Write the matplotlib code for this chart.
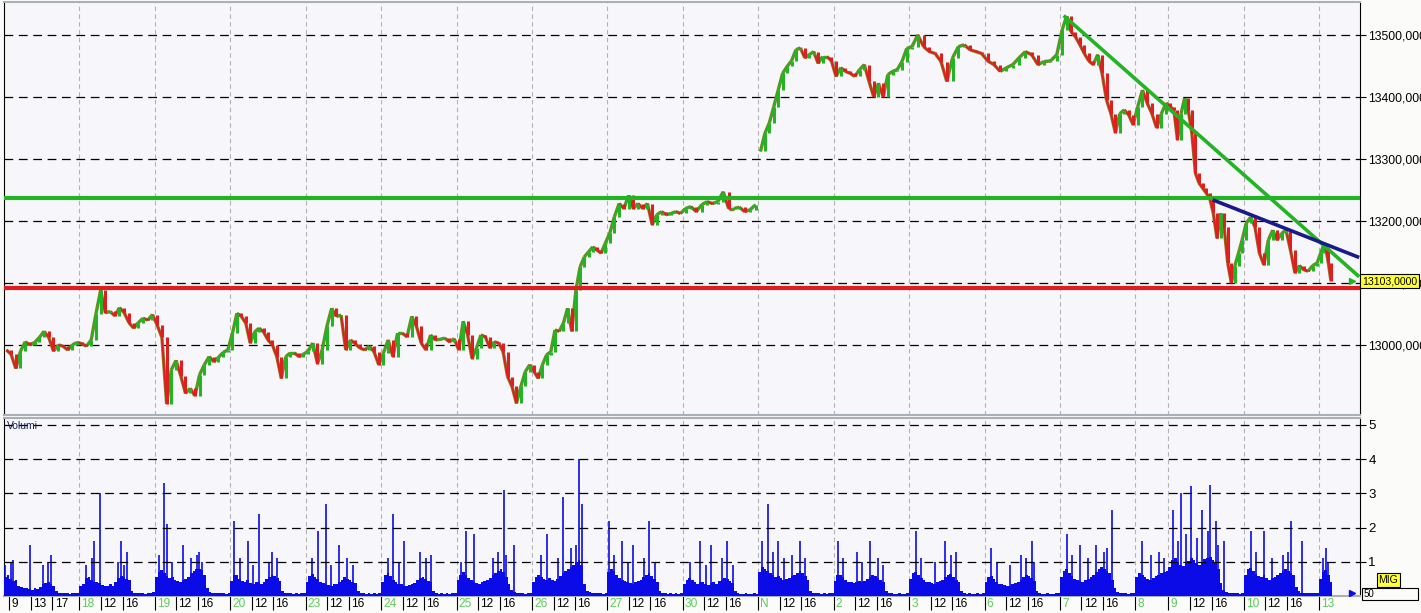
import numpy as np
import matplotlib
matplotlib.use("Agg")
import matplotlib.pyplot as plt
from matplotlib.collections import LineCollection
from matplotlib.patches import Rectangle
from matplotlib.transforms import blended_transform_factory

# --- sessions shown (8:00-22:00), 8 Nov short, 13 Nov only partly traded ---
day_labels = ["", "18", "19", "20", "23", "24", "25", "26", "27", "30",
              "N", "2", "3", "6", "7", "8", "9", "10", "13"]
day_hours = [14, 14, 14, 14, 14, 14, 14, 14, 14, 14,
             14, 14, 14, 14, 14, 6.15, 14, 14, 2.4]
first_day_hours = [9, 13, 17]
other_day_hours = [12, 16]

# --- index price, samples spread evenly over each session ---
p_oct17 = [12992, 12985, 12962, 12990, 13005, 13000, 13004, 13012, 13022, 13012, 12990, 13000, 12998, 12992, 13000, 13004]
p_oct18 = [13002, 12998, 13008, 13050, 13088, 13052, 13054, 13047, 13060, 13052, 13036, 13027, 13036, 13043, 13040, 13049]
p_oct19 = [13032, 13012, 12905, 12960, 12975, 12950, 12922, 12930, 12918, 12952, 12968, 12981, 12973, 12980, 12988, 12992]
p_oct20 = [13019, 13051, 13046, 13035, 13003, 13021, 13027, 13021, 13008, 13000, 12981, 12946, 12981, 12987, 12987, 12981, 12985]
p_oct23 = [12990, 13003, 12970, 12992, 13030, 13059, 13046, 13048, 12992, 13008, 13002, 12995, 12992, 12998, 12989, 12968]
p_oct24 = [12987, 13008, 12981, 13019, 13019, 13013, 13046, 13030, 13003, 12992, 13016, 13008, 13009, 13011, 13005, 13010]
p_oct25 = [12992, 13038, 13016, 12978, 12995, 13016, 13013, 12995, 13005, 13003, 12989, 12949, 12933, 12906, 12933, 12957, 12968]
p_oct26 = [12957, 12946, 12968, 12984, 12989, 13024, 13022, 13035, 13059, 13022, 13089, 13126, 13142, 13150, 13158, 13153, 13148, 13164]
p_oct27 = [13180, 13207, 13228, 13220, 13241, 13220, 13228, 13220, 13228, 13194, 13210, 13215, 13210, 13212, 13215, 13212]
p_oct30 = [13220, 13223, 13215, 13226, 13231, 13228, 13231, 13247, 13220, 13220, 13222, 13215, 13218, 13226]
p_nov01 = [13312, 13341, 13358, 13384, 13411, 13438, 13449, 13458, 13476, 13479, 13463, 13468, 13473, 13454, 13465, 13465, 13458]
p_nov02 = [13433, 13447, 13441, 13438, 13433, 13444, 13452, 13425, 13400, 13422, 13400, 13436, 13441, 13444, 13457, 13478]
p_nov03 = [13481, 13500, 13481, 13473, 13470, 13457, 13425, 13463, 13481, 13484, 13476, 13473, 13470]
p_nov06 = [13458, 13452, 13441, 13447, 13452, 13463, 13473, 13468, 13452, 13457, 13458, 13468]
p_nov07 = [13508, 13530, 13505, 13497, 13484, 13470, 13458, 13452, 13468, 13438, 13395, 13373, 13342, 13373, 13379, 13371, 13355]
p_nov08 = [13384, 13411, 13390, 13373, 13350, 13373, 13390]
p_nov09 = [13384, 13379, 13331, 13373, 13398, 13379, 13342, 13277, 13261, 13253, 13245, 13236, 13212, 13172, 13212, 13190, 13132, 13100, 13128, 13148, 13169]
p_nov10 = [13196, 13206, 13190, 13148, 13129, 13169, 13185, 13169, 13180, 13185, 13153, 13116, 13128, 13121, 13119, 13128, 13132]
p_nov13 = [13148, 13159, 13156, 13132, 13103]

# --- volume per half hour ---
v_oct17 = [0.55, 0.62, 0.50, 0.45, 0.48, 0.30, 0.25, 0.22, 0.24, 0.20, 0.18, 0.22, 0.20, 0.26, 0.34, 0.38, 0.40, 0.36, 0.30, 0.16, 0.10, 0.08, 0.09, 0.08, 0.07, 0.09, 0.08, 0.10]
v_oct18 = [0.30, 0.36, 0.52, 0.55, 0.46, 0.40, 0.42, 0.38, 0.32, 0.28, 0.30, 0.34, 0.30, 0.40, 0.52, 0.58, 0.55, 0.50, 0.48, 0.16, 0.10, 0.08, 0.09, 0.08, 0.07, 0.08, 0.09, 0.12]
v_oct19 = [0.55, 0.70, 0.75, 0.68, 0.58, 0.52, 0.55, 0.48, 0.45, 0.42, 0.48, 0.50, 0.55, 0.66, 0.72, 0.78, 0.80, 0.75, 0.60, 0.22, 0.12, 0.10, 0.08, 0.09, 0.08, 0.08, 0.07, 0.10]
v_oct20 = [0.45, 0.60, 0.62, 0.50, 0.44, 0.40, 0.46, 0.38, 0.35, 0.40, 0.42, 0.36, 0.40, 0.50, 0.55, 0.62, 0.58, 0.52, 0.45, 0.16, 0.10, 0.08, 0.08, 0.07, 0.08, 0.07, 0.08, 0.10]
v_oct23 = [0.40, 0.58, 0.65, 0.55, 0.50, 0.42, 0.38, 0.35, 0.32, 0.30, 0.34, 0.36, 0.40, 0.48, 0.55, 0.50, 0.46, 0.42, 0.38, 0.14, 0.09, 0.08, 0.07, 0.08, 0.07, 0.08, 0.07, 0.09]
v_oct24 = [0.42, 0.60, 0.66, 0.58, 0.46, 0.40, 0.36, 0.34, 0.30, 0.28, 0.32, 0.35, 0.38, 0.46, 0.52, 0.56, 0.50, 0.44, 0.40, 0.14, 0.09, 0.07, 0.08, 0.07, 0.08, 0.07, 0.08, 0.09]
v_oct25 = [0.48, 0.62, 0.70, 0.60, 0.52, 0.46, 0.40, 0.38, 0.36, 0.40, 0.44, 0.48, 0.52, 0.60, 0.66, 0.72, 0.78, 0.70, 0.55, 0.34, 0.18, 0.12, 0.10, 0.09, 0.08, 0.07, 0.08, 0.10]
v_oct26 = [0.40, 0.55, 0.62, 0.56, 0.50, 0.46, 0.52, 0.48, 0.44, 0.50, 0.58, 0.66, 0.72, 0.80, 0.86, 0.92, 0.98, 1.05, 0.90, 0.34, 0.16, 0.12, 0.10, 0.09, 0.08, 0.08, 0.07, 0.10]
v_oct27 = [0.70, 0.80, 0.72, 0.60, 0.52, 0.46, 0.44, 0.42, 0.38, 0.36, 0.40, 0.44, 0.48, 0.55, 0.60, 0.66, 0.58, 0.50, 0.42, 0.14, 0.09, 0.08, 0.07, 0.08, 0.07, 0.08, 0.07, 0.09]
v_oct30 = [0.35, 0.48, 0.52, 0.46, 0.40, 0.36, 0.42, 0.40, 0.34, 0.32, 0.38, 0.40, 0.36, 0.44, 0.48, 0.52, 0.50, 0.44, 0.38, 0.14, 0.09, 0.07, 0.07, 0.08, 0.07, 0.07, 0.08, 0.07]
v_nov01 = [0.70, 0.85, 0.80, 0.72, 0.66, 0.60, 0.55, 0.58, 0.52, 0.48, 0.50, 0.54, 0.58, 0.62, 0.68, 0.72, 0.66, 0.58, 0.48, 0.16, 0.10, 0.08, 0.08, 0.07, 0.08, 0.07, 0.08, 0.09]
v_nov02 = [0.45, 0.60, 0.62, 0.55, 0.48, 0.42, 0.40, 0.38, 0.42, 0.44, 0.40, 0.45, 0.50, 0.56, 0.60, 0.58, 0.52, 0.46, 0.40, 0.14, 0.09, 0.08, 0.07, 0.07, 0.08, 0.07, 0.07, 0.09]
v_nov03 = [0.50, 0.66, 0.70, 0.60, 0.52, 0.46, 0.42, 0.40, 0.38, 0.36, 0.40, 0.44, 0.48, 0.55, 0.60, 0.64, 0.56, 0.48, 0.42, 0.14, 0.09, 0.07, 0.08, 0.07, 0.07, 0.08, 0.07, 0.08]
v_nov06 = [0.40, 0.55, 0.58, 0.50, 0.42, 0.36, 0.34, 0.32, 0.30, 0.30, 0.34, 0.38, 0.42, 0.48, 0.55, 0.60, 0.58, 0.52, 0.44, 0.14, 0.09, 0.07, 0.07, 0.08, 0.07, 0.07, 0.08, 0.08]
v_nov07 = [0.55, 0.72, 0.78, 0.66, 0.58, 0.50, 0.46, 0.44, 0.42, 0.46, 0.50, 0.56, 0.62, 0.70, 0.78, 0.84, 0.80, 0.72, 0.66, 0.48, 0.22, 0.12, 0.10, 0.09, 0.08, 0.07, 0.08, 0.09]
v_nov08 = [0.55, 0.68, 0.62, 0.56, 0.50, 0.46, 0.52, 0.58, 0.62, 0.66, 0.70, 0.72]
v_nov09 = [0.85, 1.05, 1.10, 0.98, 0.92, 0.88, 0.95, 1.02, 1.10, 1.05, 0.96, 0.92, 1.00, 1.08, 1.12, 1.15, 1.05, 0.95, 0.80, 0.38, 0.18, 0.12, 0.10, 0.09, 0.08, 0.08, 0.07, 0.09]
v_nov10 = [0.60, 0.80, 0.82, 0.72, 0.64, 0.58, 0.55, 0.60, 0.52, 0.48, 0.52, 0.56, 0.60, 0.66, 0.72, 0.78, 0.74, 0.68, 0.60, 0.26, 0.14, 0.10, 0.09, 0.08, 0.08, 0.09, 0.08, 0.10]
v_nov13 = [0.50, 0.70, 0.75, 0.62, 0.40]

# isolated volume spikes: session index, half-hour slot, height
spike_day = [0, 0, 0, 0, 0, 0, 0,
             1, 1, 1, 1, 1, 1, 1, 1,
             2, 2, 2, 2, 2, 2, 2, 2, 2,
             3, 3, 3, 3, 3, 3, 3, 3,
             4, 4, 4, 4, 4, 4, 4,
             5, 5, 5, 5, 5, 5, 5,
             6, 6, 6, 6, 6, 6, 6, 6,
             7, 7, 7, 7, 7, 7, 7, 7,
             8, 8, 8, 8, 8, 8, 8, 8,
             9, 9, 9, 9, 9, 9, 9,
             10, 10, 10, 10, 10, 10, 10, 10,
             11, 11, 11, 11, 11, 11, 11,
             12, 12, 12, 12, 12, 12,
             13, 13, 13, 13, 13, 13, 13,
             14, 14, 14, 14, 14, 14, 14, 14,
             15, 15, 15, 15,
             16, 16, 16, 16, 16, 16, 16, 16, 16, 16, 16, 16,
             17, 17, 17, 17, 17, 17, 17, 17,
             18, 18, 18]
spike_slot = [3, 9, 17, 0, 2, 14, 16,
              5, 7, 15, 2, 4, 14, 17, 16,
              3, 4, 10, 16, 1, 6, 13, 15, 17,
              1, 6, 10, 15, 3, 8, 14, 17,
              4, 7, 12, 2, 9, 15, 17,
              4, 8, 14, 2, 6, 16, 18,
              3, 6, 17, 21, 1, 13, 15, 18,
              5, 11, 17, 18, 3, 9, 14, 16,
              0, 5, 9, 15, 2, 7, 13, 17,
              6, 10, 16, 2, 8, 14, 18,
              1, 3, 7, 15, 5, 9, 12, 17,
              1, 8, 13, 3, 10, 16, 18,
              2, 13, 17, 4, 9, 15,
              2, 13, 17, 4, 9, 15, 18,
              2, 7, 13, 19, 4, 10, 16, 17,
              2, 5, 8, 10,
              1, 4, 8, 12, 15, 17, 20, 3, 6, 10, 14, 18,
              2, 7, 17, 21, 4, 10, 14, 16,
              2, 1, 3]
spike_vol = [1.05, 1.5, 1.2, 0.9, 1.0, 0.9, 1.0,
             1.6, 3.0, 1.6, 0.9, 1.1, 1.0, 1.3, 0.9,
             3.3, 2.1, 1.5, 1.3, 1.2, 1.0, 1.1, 1.2, 1.0,
             2.2, 1.6, 2.4, 1.3, 1.1, 0.9, 1.0, 1.1,
             1.9, 2.7, 1.5, 1.1, 0.9, 1.1, 0.9,
             2.4, 1.6, 1.3, 1.1, 1.0, 1.1, 1.2,
             1.9, 1.8, 3.1, 1.5, 1.0, 1.1, 1.3, 1.2,
             1.8, 2.9, 4.0, 2.7, 1.2, 1.1, 1.4, 1.5,
             2.2, 1.6, 1.5, 2.2, 1.2, 1.0, 1.1, 1.0,
             1.6, 1.5, 1.6, 1.0, 0.9, 1.1, 0.9,
             1.6, 2.7, 1.6, 1.6, 1.3, 1.1, 1.2, 1.1,
             1.6, 1.3, 1.6, 1.1, 1.0, 1.1, 0.9,
             1.9, 1.6, 1.3, 1.1, 1.0, 1.2,
             1.4, 1.2, 1.6, 1.0, 0.9, 1.1, 1.0,
             1.8, 1.5, 1.5, 2.5, 1.2, 1.1, 1.3, 1.4,
             1.6, 1.2, 1.3, 1.1,
             2.5, 3.0, 3.2, 2.5, 3.25, 2.2, 1.6, 1.6, 1.8, 1.7, 1.9, 1.5,
             1.9, 1.9, 2.2, 1.6, 1.3, 1.1, 1.2, 1.3,
             1.4, 1.1, 1.0]

# levels and trend lines: (session index, hours after 8:00, price)
resistance = 13237
support = 13091
green_trend = [(14, 0.7, 13531), (18, 7.4, 13110)]
blue_trend = [(16, 8.2, 13234), (18, 7.4, 13141)]
last_price = 13103

price_days = [p_oct17, p_oct18, p_oct19, p_oct20, p_oct23, p_oct24, p_oct25, p_oct26, p_oct27, p_oct30,
              p_nov01, p_nov02, p_nov03, p_nov06, p_nov07, p_nov08, p_nov09, p_nov10, p_nov13]
vol_days = [v_oct17, v_oct18, v_oct19, v_oct20, v_oct23, v_oct24, v_oct25, v_oct26, v_oct27, v_oct30,
            v_nov01, v_nov02, v_nov03, v_nov06, v_nov07, v_nov08, v_nov09, v_nov10, v_nov13]

day_start = np.concatenate([[0.0], np.cumsum(day_hours)[:-1]])

PANEL = "#f6f6fb"
GREEN = "#22b422"
RED = "#dd1f1f"
BLUE = "#1a1a8a"
VOL = "#0b0be8"
DAYGREEN = "#5ccc5c"

plt.rcParams["font.family"] = ["Liberation Sans", "DejaVu Sans"]

fig = plt.figure(figsize=(14.21, 6.13), dpi=100, facecolor="#fbfbf9")
ax = fig.add_axes([4 / 1421, 1 - 415 / 613, 1356 / 1421, 413 / 613])
axv = fig.add_axes([4 / 1421, 1 - 596 / 613, 1356 / 1421, 178 / 613], sharex=ax)

for a in (ax, axv):
    a.set_facecolor(PANEL)
    for d in range(1, len(day_start)):
        a.axvline(day_start[d], color="#b3b3b3", lw=0.8, ls=(0, (4, 3)), zorder=1)
    a.spines["left"].set_color("black")
    a.spines["right"].set_color("black")
    a.spines["top"].set_color("#a8b0b8")
    a.spines["bottom"].set_color("#a8b0b8")
    a.spines["top"].set_linewidth(1.5)
    a.spines["bottom"].set_linewidth(1.5)
    a.yaxis.tick_right()
    a.tick_params(axis="y", direction="out", length=4, width=0.8, pad=2,
                  labelsize=8.8, colors="black")

# ---- price panel ----
xs, ys, starts = [], [], []
for d, vals in enumerate(price_days):
    n = len(vals)
    starts.append(len(xs))
    for i, v in enumerate(vals):
        xs.append(day_start[d] + (i + 0.5) * day_hours[d] / n)
        ys.append(v)
xs = np.array(xs)
ys = np.array(ys, dtype=float)

segs, cols = [], []
for k in range(1, len(xs)):
    if k in starts and abs(ys[k] - ys[k - 1]) > 40:
        continue
    segs.append([(xs[k - 1], ys[k - 1]), (xs[k], ys[k])])
    cols.append(GREEN if ys[k] >= ys[k - 1] else RED)
ax.add_collection(LineCollection(segs, colors="#8a7a22", linewidths=2.4, zorder=3))
ax.add_collection(LineCollection(segs, colors=cols, linewidths=1.3, zorder=4))
# candle bodies: from previous close to close
body_x = [s[1][0] for s in segs]
body_lo = [min(s[0][1], s[1][1]) for s in segs]
body_hi = [max(s[0][1], s[1][1]) for s in segs]
ax.vlines(body_x, body_lo, body_hi, colors=cols, lw=2.2, zorder=4)

for lvl in [13000, 13100, 13200, 13300, 13400, 13500]:
    ax.axhline(lvl, color="black", lw=0.9, ls=(0, (7, 4.5)), zorder=2)

ax.axhline(resistance, color=GREEN, lw=3, zorder=5)
ax.axhline(support, color=RED, lw=3, zorder=5)
for trend, col in ((green_trend, GREEN), (blue_trend, BLUE)):
    tx = [day_start[d] + h for d, h, _ in trend]
    ty = [p for _, _, p in trend]
    ax.plot(tx, ty, color=col, lw=2.6, zorder=6, solid_capstyle="butt")

ax.set_ylim(12887, 13553)
ax.set_xlim(0, 251.7)
ax.set_yticks([13000, 13100, 13200, 13300, 13400, 13500])
ax.set_yticklabels([f"{v},0000" for v in [13000, 13100, 13200, 13300, 13400, 13500]])
ax.tick_params(axis="x", bottom=False, labelbottom=False)

tr = blended_transform_factory(ax.transAxes, ax.transData)
ax.plot([0.994], [last_price], marker=">", color=GREEN, ms=5, transform=tr,
        clip_on=False, zorder=7)
ax.text(1.0015, last_price, "13103,0000", transform=tr, va="center", ha="left",
        fontsize=7.6, zorder=10, clip_on=False,
        bbox=dict(boxstyle="square,pad=0.2", fc="#ffff3a", ec="black", lw=0.8))

# ---- volume panel ----
for d, vals in enumerate(vol_days):
    n = len(vals)
    w = day_hours[d] / n
    bx = [day_start[d] + (i + 0.5) * w for i in range(n)]
    axv.bar(bx, vals, width=w, color=VOL, linewidth=0, zorder=3)
sx = [day_start[d] + (s + 0.5) * day_hours[d] / len(vol_days[d])
      for d, s in zip(spike_day, spike_slot)]
axv.vlines(sx, 0, spike_vol, color=VOL, lw=1.2, zorder=3)

for lvl in [1, 2, 3, 4, 5]:
    axv.axhline(lvl, color="black", lw=0.9, ls=(0, (7, 4.5)), zorder=4)
axv.set_ylim(0, 5.2)
axv.set_yticks([1, 2, 3, 4, 5])
axv.tick_params(axis="y", labelsize=9.5)
axv.text(0.002, 0.985, "Volumi", transform=axv.transAxes, fontsize=7.5,
         color="#1c1c5a", va="top", ha="left", zorder=6)
trv = blended_transform_factory(axv.transAxes, axv.transData)
axv.plot([0.994], [0.08], marker=">", color=VOL, ms=5, transform=trv,
         clip_on=False, zorder=7)
axv.text(1.0135, 0.09, "MIG", transform=axv.transAxes, fontsize=7.5, color="black",
         va="center", ha="left", zorder=10,
         bbox=dict(boxstyle="square,pad=0.15", fc="#ffff3a", ec="black", lw=0.8))
fig.patches.append(Rectangle((1362 / 1421, 13 / 613), 56 / 1421, 12 / 613,
                             transform=fig.transFigure, fill=False, ec="black", lw=0.8))
fig.text(1364 / 1421, 14 / 613, "50", fontsize=7, va="bottom", ha="left")

# ---- time axis ----
tick_x, tick_lab, tick_col = [], [], []
for d, lab in enumerate(day_labels):
    if lab:
        tick_x.append(day_start[d])
        tick_lab.append(lab)
        tick_col.append(DAYGREEN)
    if d == 0:
        hrs = first_day_hours
    elif day_hours[d] >= 14:
        hrs = other_day_hours
    else:
        hrs = []
    for h in hrs:
        tick_x.append(day_start[d] + h - 8)
        tick_lab.append(str(h))
        tick_col.append("black")

axv.set_xticks(tick_x)
axv.set_xticklabels([])
axv.tick_params(axis="x", direction="out", length=10, width=0.8, pad=1)
for tk, c in zip(axv.xaxis.get_major_ticks(), tick_col):
    tk.tick1line.set_color(c)
trx = blended_transform_factory(axv.transData, axv.transAxes)
for x, lab, c in zip(tick_x, tick_lab, tick_col):
    axv.annotate(lab, xy=(x, 0), xycoords=trx, xytext=(1.5, -1.5),
                 textcoords="offset points", ha="left", va="top",
                 fontsize=8.6, color=c)

fig.savefig("out.png", dpi=100, facecolor=fig.get_facecolor())
